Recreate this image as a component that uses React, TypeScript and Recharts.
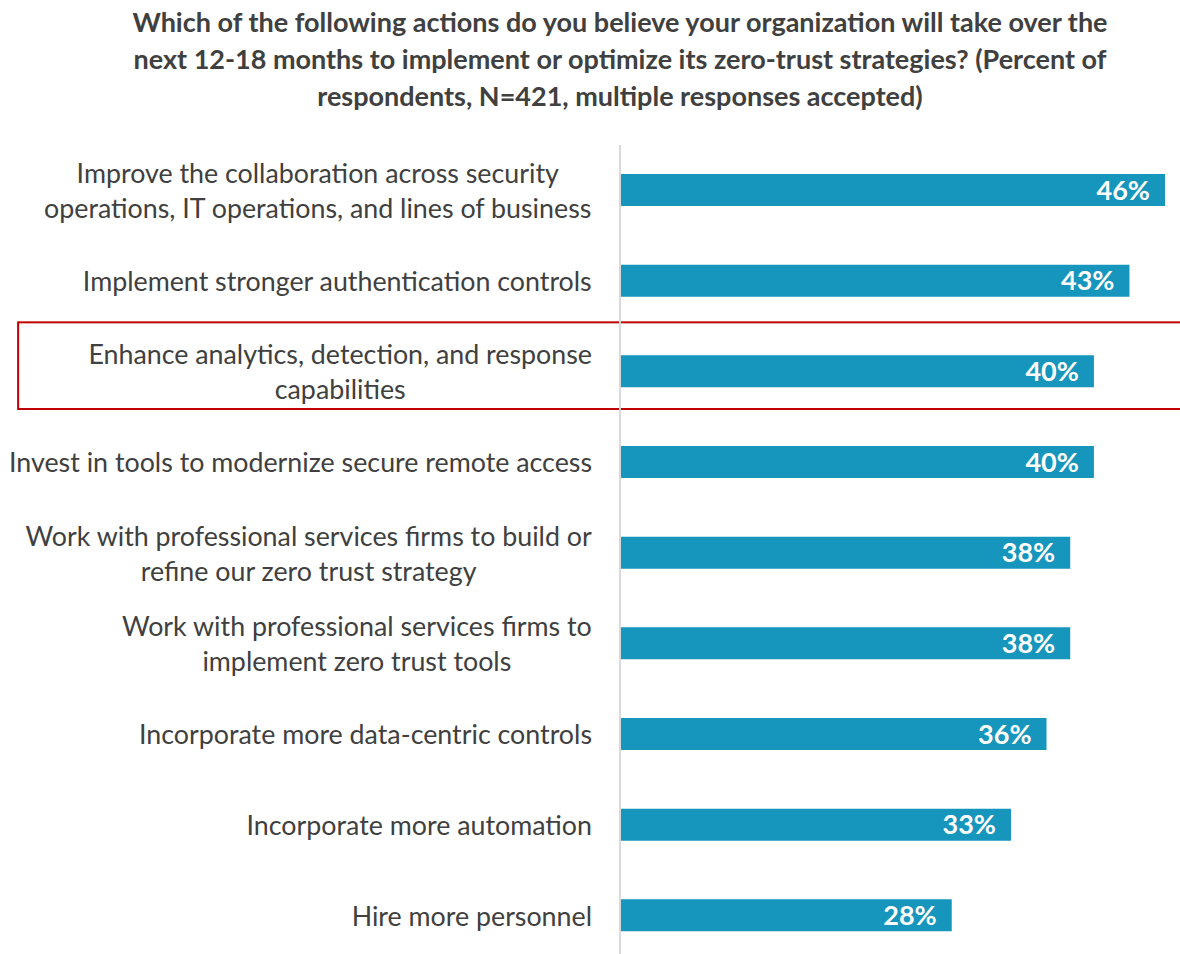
import React from "react";
import { BarChart, Bar, XAxis, YAxis, LabelList, ReferenceArea } from "recharts";

const categories = [
  "Improve the collaboration across security\noperations, IT operations, and lines of business",
  "Implement stronger authentication controls",
  "Enhance analytics, detection, and response\ncapabilities",
  "Invest in tools to modernize secure remote access",
  "Work with professional services firms to build or\nrefine our zero trust strategy",
  "Work with professional services firms to\nimplement zero trust tools",
  "Incorporate more data-centric controls",
  "Incorporate more automation",
  "Hire more personnel",
];
const values = [46, 43, 40, 40, 38, 38, 36, 33, 28];
const highlighted = categories[2];
const titleLines = [
  "Which of the following actions do you believe your organization will take over the",
  "next 12-18 months to implement or optimize its zero-trust strategies? (Percent of",
  "respondents, N=421, multiple responses accepted)",
];

const data = categories.map((c, i) => ({ name: c, value: values[i] }));

const FONT = "Lato, 'Noto Sans', sans-serif";
const LABEL_SIZE = 26.8;
let ctx: CanvasRenderingContext2D | null = null;
function measure(t: string): number {
  if (!ctx) {
    const c = document.createElement("canvas");
    ctx = c.getContext("2d");
  }
  if (!ctx) return t.length * 12;
  ctx.font = `${LABEL_SIZE}px Lato`;
  return ctx.measureText(t).width;
}

const Tick = (props: any) => {
  const { x, y, payload } = props;
  const lines: string[] = String(payload.value).split("\n");
  const maxW = Math.max(...lines.map(measure));
  const cx = x - maxW / 2;
  const lh = 35;
  const start = y - ((lines.length - 1) * lh) / 2;
  return (
    <g>
      {lines.map((l, i) => (
        <text
          key={i}
          x={cx}
          y={start + i * lh}
          textAnchor="middle"
          dominantBaseline="central"
          fill="#404040"
          fontSize={LABEL_SIZE}
          fontFamily={FONT}
        >
          {l}
        </text>
      ))}
    </g>
  );
};

const BoxShape = (props: any) => {
  const { x, y, width, height } = props;
  return (
    <rect x={x} y={y - 4} width={width} height={height - 4} fill="none" stroke="#c00000" strokeWidth={2} />
  );
};

export default function App() {
  return (
    <div style={{ position: "absolute", left: 0, top: 0, width: 1180, height: 970, background: "#fff" }}>
      <div
        style={{
          position: "absolute",
          left: 70,
          top: 3,
          width: 1100,
          textAlign: "center",
          fontFamily: FONT,
          fontWeight: 700,
          fontSize: 27,
          lineHeight: "37px",
          color: "#404040",
        }}
      >
        {titleLines.map((l, i) => (
          <div key={i} style={{ whiteSpace: "nowrap" }}>{l}</div>
        ))}
      </div>
      <BarChart
        width={1180}
        height={970}
        data={data}
        layout="vertical"
        margin={{ top: 145, right: 15, bottom: 9, left: 0 }}
        barCategoryGap={0}
      >
        <XAxis type="number" domain={[0, 46]} hide />
        <YAxis
          type="category"
          dataKey="name"
          width={620}
          tickLine={false}
          tickSize={0}
          tickMargin={28}
          axisLine={{ stroke: "#d9d9d9", strokeWidth: 2 }}
          tick={<Tick />}
          interval={0}
        />
        <ReferenceArea
          y1={highlighted}
          y2={highlighted}
          x1={-50.8}
          x2={48}
          ifOverflow="visible"
          shape={<BoxShape />}
        />
        <Bar dataKey="value" fill="#1695bd" barSize={32} isAnimationActive={false}>
          <LabelList
            dataKey="value"
            position="insideRight"
            offset={15}
            formatter={(v: any) => `${v}%`}
            fill="#ffffff"
            fontSize={27}
            fontWeight={700}
            fontFamily={FONT}
          />
        </Bar>
      </BarChart>
    </div>
  );
}
